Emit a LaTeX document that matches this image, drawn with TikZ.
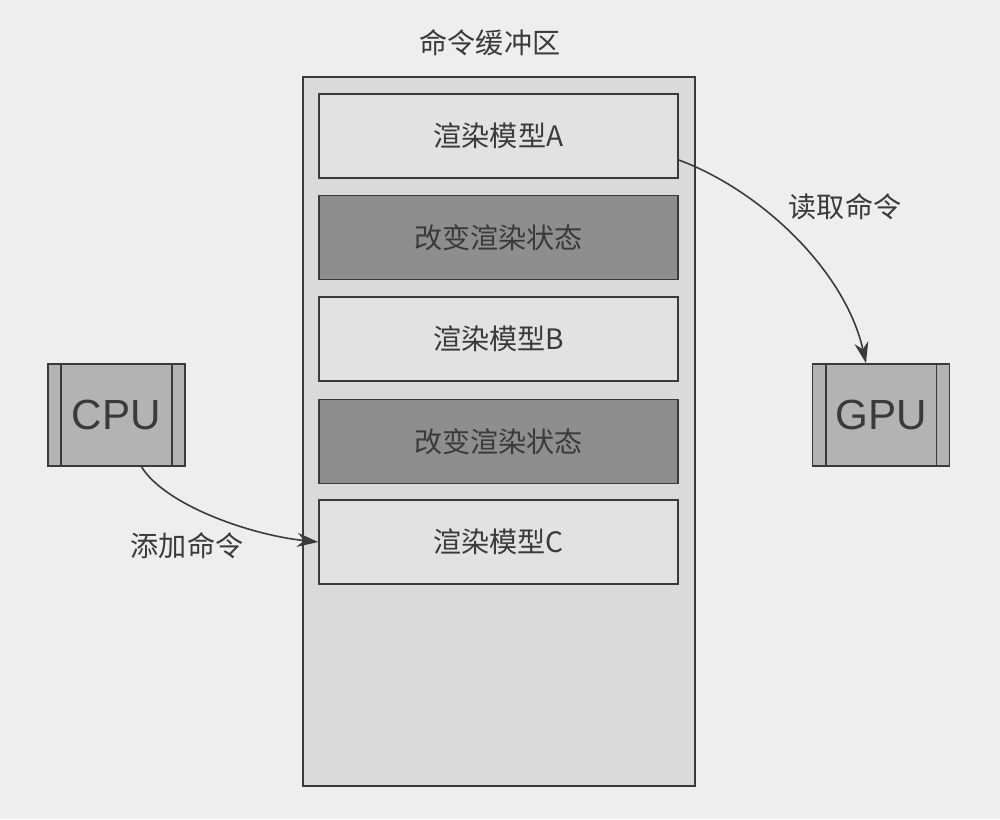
\documentclass[tikz,border=0pt]{standalone}
\usepackage{fontspec}
\setmainfont{Liberation Sans}
\newfontfamily\cjk{Noto Sans CJK SC}
\usetikzlibrary{arrows.meta}
\definecolor{paper}{HTML}{EEEEEE}
\definecolor{ink}{HTML}{3A3A3A}
\definecolor{buffill}{HTML}{DADADA}
\definecolor{lightcmd}{HTML}{E2E2E2}
\definecolor{darkcmd}{HTML}{8E8E8E}
\definecolor{chipfill}{HTML}{B3B3B3}
\tikzset{
  frame/.style={draw=ink, line width=0.9pt},
  cmdbox/.style={frame, minimum width=7.18cm, minimum height=1.68cm, inner sep=0pt,
    font=\cjk\fontsize{16}{18}\selectfont, text=ink},
  rendercmd/.style={cmdbox, fill=lightcmd},
  statecmd/.style={cmdbox, fill=darkcmd},
  chip/.style={frame, fill=chipfill, minimum width=2.74cm, minimum height=2.04cm,
    inner sep=0pt, font=\fontsize{24}{26}\selectfont, text=ink},
  lbl/.style={font=\cjk\fontsize{16}{18}\selectfont, text=ink},
  flow/.style={draw=ink, line width=0.9pt, -{Stealth[length=12pt,width=8pt]}}
}
\begin{document}
\begin{tikzpicture}[x=0.02cm, y=-0.02cm]
  % page background
  \fill[paper] (0,0) rectangle (1000,819);
  \useasboundingbox (0,0) rectangle (1000,819);

  % command buffer
  \node[frame, fill=buffill, minimum width=7.84cm, minimum height=14.18cm, inner sep=0pt]
    (buf) at (499,431.5) {};
  \node[lbl] (title) at (490,43) {命令缓冲区};

  \node[rendercmd] (A)  at (498.5,136)   {渲染模型A};
  \node[statecmd]  (S1) at (498.5,237.5) {改变渲染状态};
  \node[rendercmd] (B)  at (498.5,339)   {渲染模型B};
  \node[statecmd]  (S2) at (498.5,441.5) {改变渲染状态};
  \node[rendercmd] (C)  at (498.5,542)   {渲染模型C};

  % processors
  \node[chip] (cpu) at (116.5,415) {CPU};
  \draw[ink, line width=0.9pt] ([xshift=0.28cm]cpu.north west) -- ([xshift=0.28cm]cpu.south west);
  \draw[ink, line width=0.9pt] ([xshift=-0.28cm]cpu.north east) -- ([xshift=-0.28cm]cpu.south east);

  \node[chip] (gpu) at (881,415) {GPU};
  \draw[ink, line width=0.9pt] ([xshift=0.28cm]gpu.north west) -- ([xshift=0.28cm]gpu.south west);
  \draw[ink, line width=0.9pt] ([xshift=-0.28cm]gpu.north east) -- ([xshift=-0.28cm]gpu.south east);

  % connectors
  \coordinate (aout) at ([yshift=-0.48cm]A.east);
  \coordinate (gin) at ([xshift=-0.3cm]gpu.north);
  \draw[flow] (aout) .. controls (760,190) and (845,270) .. (gin);
  \node[lbl] (read) at (845,207) {读取命令};

  \coordinate (cout) at ([xshift=0.5cm]cpu.south);
  \draw[flow] (cout) .. controls (165,505) and (250,535) .. (C.west);
  \node[lbl] (add) at (187,546) {添加命令};
\end{tikzpicture}
\end{document}
